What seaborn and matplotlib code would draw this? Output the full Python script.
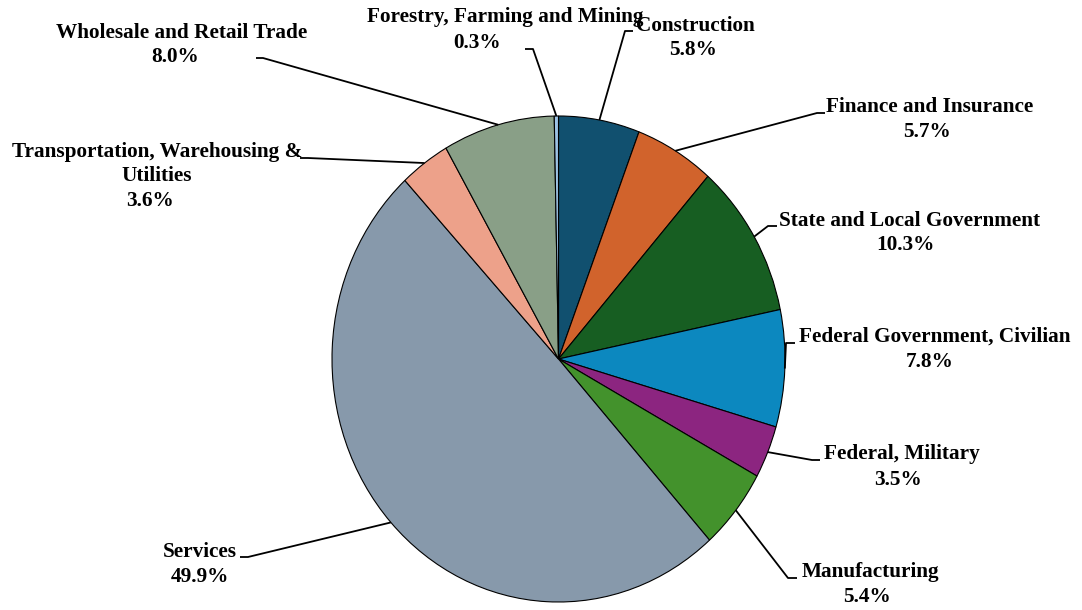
import matplotlib
matplotlib.use("Agg")
import matplotlib.pyplot as plt
import seaborn as sns
import numpy as np

# Share of employment by industry
sectors = [
    "Construction",
    "Finance and Insurance",
    "State and Local Government",
    "Federal Government, Civilian",
    "Federal, Military",
    "Manufacturing",
    "Services",
    "Transportation, Warehousing &\nUtilities",
    "Wholesale and Retail Trade",
    "Forestry, Farming and Mining",
]
shares = [5.8, 5.7, 10.3, 7.8, 3.5, 5.4, 49.9, 3.6, 8.0, 0.3]
colors = [
    "#11506F", "#D1632C", "#175E22", "#0C88BF", "#8C2580",
    "#43922C", "#8799AB", "#EDA18A", "#899F87", "#9DC3E6",
]

# label layout in figure pixels (from top-left):
# name centre, percent centre, leader elbow, end of leader tick
label_layout = [
    ((695, 26), (693, 50), (625, 31), (633, 31)),
    ((930, 107), (927, 132), (817, 113), (825, 113)),
    ((910, 221), (905, 245), (768, 226), (777, 226)),
    ((935, 337), (930, 362), (786, 343), (795, 343)),
    ((902, 454), (898, 480), (812, 460), (820, 460)),
    ((870, 572), (867, 597), (788, 578), (797, 578)),
    ((200, 552), (200, 577), (248, 557), (240, 557)),
    ((157, 164), (150, 201), (308, 158), (300, 158)),
    ((182, 33), (175, 57), (263, 58), (256, 58)),
    ((505, 17), (477, 43), (533, 49), (525, 49)),
]

W, H = 1082, 610
sns.set_theme(style="white")
plt.rcParams["font.family"] = ["Liberation Serif", "DejaVu Serif"]
plt.rcParams["text.color"] = "black"

fig = plt.figure(figsize=(W / 100, H / 100), dpi=100)
ax = fig.add_axes([0, 0, 1, 1])

wedges, _ = ax.pie(
    shares,
    colors=colors,
    startangle=90,
    counterclock=False,
    wedgeprops=dict(edgecolor="black", linewidth=0.8),
)

# pie centre and radii in pixels; the chart is slightly taller than wide
cx, cy, rx, ry = 558.5, 359.0, 226.5, 243.0
xr, yr = W / rx, H / ry
xmin = -cx / rx
ymax = cy / ry
ax.set_aspect("auto")
ax.set_xlim(xmin, xmin + xr)
ax.set_ylim(ymax - yr, ymax)
ax.axis("off")


def to_data(p):
    x, y = p
    return xmin + x / W * xr, ymax - y / H * yr


fs = 15.3
for w, name, val, (npos, ppos, elbow, tick) in zip(
    wedges, sectors, shares, label_layout
):
    ang = np.deg2rad((w.theta1 + w.theta2) / 2)
    start = (np.cos(ang), np.sin(ang))
    e = to_data(elbow)
    t = to_data(tick)
    ax.plot([start[0], e[0], t[0]], [start[1], e[1], t[1]],
            color="black", lw=1.3, solid_capstyle="butt", zorder=3)
    nx, ny = to_data(npos)
    ax.text(nx, ny, name, ha="center", va="center", fontsize=fs,
            fontweight="bold", linespacing=1.25, zorder=4)
    qx, qy = to_data(ppos)
    ax.text(qx, qy, f"{val:.1f}%", ha="center", va="center", fontsize=fs,
            fontweight="bold", zorder=4)

fig.savefig("out.png", dpi=100, facecolor="white")
